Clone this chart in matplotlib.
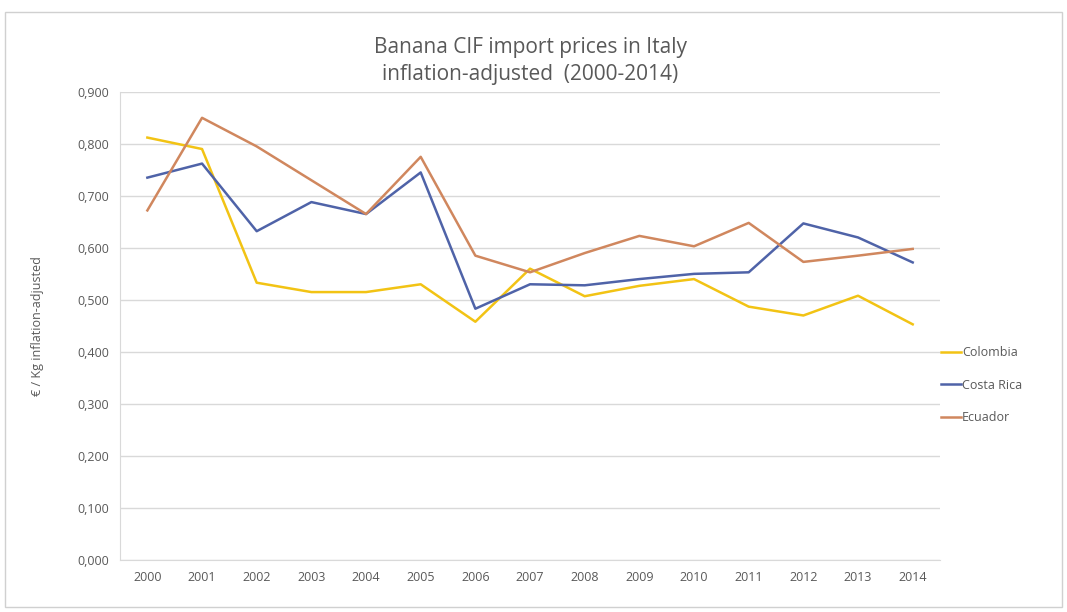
import matplotlib.pyplot as plt
from matplotlib.patches import Rectangle
from matplotlib.ticker import FuncFormatter

years = ["2000", "2001", "2002", "2003", "2004", "2005", "2006", "2007",
         "2008", "2009", "2010", "2011", "2012", "2013", "2014"]
colombia = [0.812, 0.790, 0.533, 0.515, 0.515, 0.530, 0.458, 0.560,
            0.507, 0.527, 0.540, 0.487, 0.470, 0.508, 0.453]
costa_rica = [0.735, 0.762, 0.632, 0.688, 0.665, 0.745, 0.483, 0.530,
              0.528, 0.540, 0.550, 0.553, 0.647, 0.620, 0.572]
ecuador = [0.672, 0.850, 0.795, 0.730, 0.665, 0.775, 0.585, 0.553,
           0.590, 0.623, 0.603, 0.648, 0.573, 0.585, 0.598]

plt.rcParams['font.family'] = ['Open Sans', 'DejaVu Sans']

fig = plt.figure(figsize=(10.67, 6.12), dpi=100)
fig.patches.append(Rectangle((0.005, 0.008), 0.99, 0.972, transform=fig.transFigure,
                             fill=False, edgecolor='#d0d0d0', linewidth=1))
ax = fig.add_axes([0.1125, 0.085, 0.7685, 0.765])

x = range(len(years))
ax.plot(x, colombia, color='#F2C314', lw=1.8, label='Colombia')
ax.plot(x, costa_rica, color='#4F63A8', lw=1.8, label='Costa Rica')
ax.plot(x, ecuador, color='#D0875E', lw=1.8, label='Ecuador')

ax.set_xlim(-0.5, len(years) - 0.5)
ax.set_ylim(0, 0.9)
ax.set_yticks([i / 10 for i in range(10)])
ax.yaxis.set_major_formatter(FuncFormatter(lambda v, p: f"{v:.3f}".replace('.', ',')))
ax.set_xticks(list(x))
ax.set_xticklabels(years)
ax.tick_params(axis='both', length=0, labelsize=9, colors='#595959', pad=8)
ax.grid(axis='y', color='#d9d9d9', lw=1)
ax.set_axisbelow(True)
for s in ['top', 'right']:
    ax.spines[s].set_visible(False)
ax.spines['left'].set_color('#d9d9d9')
ax.spines['bottom'].set_color('#d9d9d9')

ax.set_ylabel('€ / Kg inflation-adjusted', fontsize=9, color='#595959', labelpad=24)
fig.text(0.497, 0.9, 'Banana CIF import prices in Italy\ninflation-adjusted  (2000-2014)',
         ha='center', va='center', fontsize=15, color='#595959', linespacing=1.35)

leg = ax.legend(loc='center left', bbox_to_anchor=(0.995, 0.373), frameon=False,
                fontsize=9, handlelength=1.6, handletextpad=0.1, labelspacing=1.55,
                borderaxespad=0)
for t in leg.get_texts():
    t.set_color('#595959')

fig.savefig('out.png', dpi=100)
